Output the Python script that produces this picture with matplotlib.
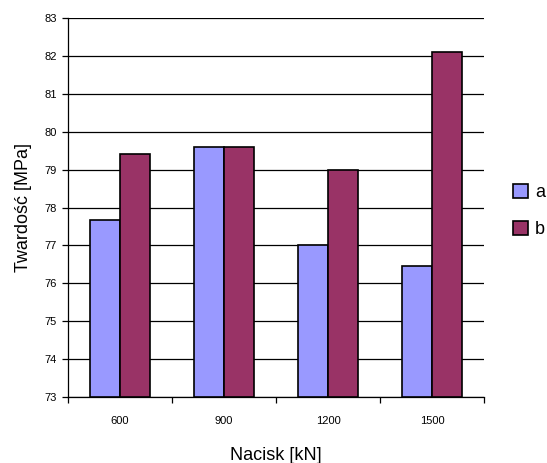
import matplotlib
matplotlib.use("Agg")
import matplotlib.pyplot as plt
import numpy as np

plt.rcParams['font.family'] = ['Liberation Sans', 'DejaVu Sans']

categories = ['600', '900', '1200', '1500']
series_a = [77.68, 79.59, 77.0, 76.46]
series_b = [79.41, 79.59, 79.0, 82.1]
yticks = [73, 74, 75, 76, 77, 78, 79, 80, 81, 82, 83]

fig = plt.figure(figsize=(5.47, 4.63), dpi=100)
ax = fig.add_axes([68 / 547, 1 - 397 / 463, 416 / 547, 379 / 463])

x = np.arange(len(categories))
w = 0.286
ax.bar(x - w / 2, np.array(series_a) - 73, w, bottom=73, color='#9999ff',
       edgecolor='black', linewidth=1.2, label='a', zorder=3)
ax.bar(x + w / 2, np.array(series_b) - 73, w, bottom=73, color='#993366',
       edgecolor='black', linewidth=1.2, label='b', zorder=3)

ax.set_xlim(-0.5, len(categories) - 0.5)
ax.set_ylim(73, 83)
ax.set_yticks(yticks)
ax.set_yticklabels([str(t) for t in yticks], fontsize=8)
ax.yaxis.grid(True, color='black', linewidth=0.9)
ax.set_axisbelow(True)

ax.set_xticks(x)
ax.set_xticklabels(categories, fontsize=8)
ax.set_xticks(np.arange(len(categories) + 1) - 0.5, minor=True)
ax.tick_params(axis='x', which='major', length=0, pad=14)
ax.tick_params(axis='x', which='minor', length=4, width=0.9)
ax.tick_params(axis='y', length=4, width=0.9, pad=4)

for s in ['top', 'right']:
    ax.spines[s].set_visible(False)
for s in ['left', 'bottom']:
    ax.spines[s].set_linewidth(0.9)

ax.set_xlabel('Nacisk [kN]', fontsize=13, labelpad=15)
ax.set_ylabel('Twardość [MPa]', fontsize=13, labelpad=9)

handles, labels = ax.get_legend_handles_labels()
fig.legend(handles, labels, loc='center left',
           bbox_to_anchor=(513 / 547, 1 - 211 / 463), frameon=False,
           fontsize=13, handlelength=0.83, handleheight=0.83,
           labelspacing=1.1, handletextpad=0.4, borderpad=0,
           borderaxespad=0)

fig.savefig('out.png', dpi=100)
